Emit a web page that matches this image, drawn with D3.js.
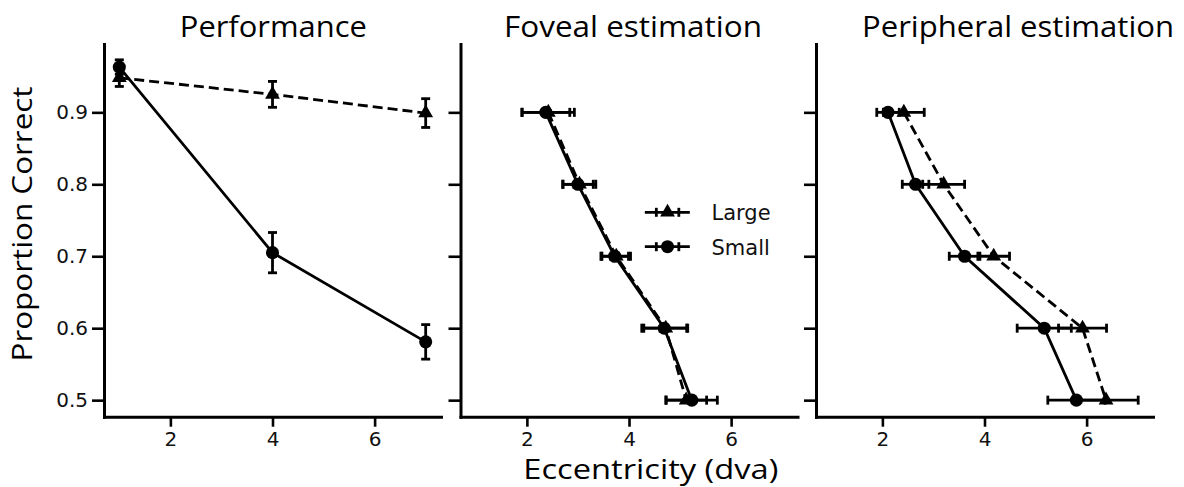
<!DOCTYPE html>
<html>
<head>
<meta charset="utf-8">
<script src="https://cdn.jsdelivr.net/npm/d3@7"></script>
<style>
  html, body { margin: 0; padding: 0; background: #fff; }
  svg { display: block; }
  .tick text { font-family: "DejaVu Sans", sans-serif; fill: #111; }
  .xax .tick text { font-size: 20px; }
  .yax .tick text { font-size: 20px; }
</style>
</head>
<body>
<svg id="chart" width="1184" height="487"></svg>
<script>
// ticks
const xTicks = [2, 4, 6]
const yTicks = [0.5, 0.6, 0.7, 0.8, 0.9]

// Performance panel: x = eccentricity, y = proportion correct (vertical error bars)
const perfEcc = [1, 4, 7]
const perfLarge = [0.948, 0.925, 0.899]
const perfLargeErr = [0.012, 0.018, 0.020]
const perfSmall = [0.963, 0.705, 0.581]
const perfSmallErr = [0.010, 0.028, 0.024]

// estimation panels: y = proportion level, x = estimated eccentricity (horizontal error bars)
const propLevels = [0.9, 0.8, 0.7, 0.6, 0.5]
const fovLarge = [2.42, 3.03, 3.75, 4.72, 5.12]
const fovLargeErr = [0.51, 0.32, 0.28, 0.43, 0.40]
const fovSmall = [2.37, 3.00, 3.72, 4.69, 5.23]
const fovSmallErr = [0.47, 0.30, 0.27, 0.44, 0.50]
const perLarge = [2.42, 3.20, 4.18, 5.92, 6.38]
const perLargeErr = [0.40, 0.41, 0.31, 0.47, 0.63]
const perSmall = [2.11, 2.65, 3.61, 5.17, 5.80]
const perSmallErr = [0.22, 0.26, 0.30, 0.53, 0.56]

const titles = ['Performance', 'Foveal estimation', 'Peripheral estimation']
const seriesNames = ['Large', 'Small']

// layout
const panelLeft = [104, 460.5, 816]
const panelW = 337
const plotTop = 44
const plotBottom = 416.7
const xDomain = [0.7, 7.3]
const yDomain = [0.477, 0.995]
const lw = 2.8
const capHalf = 4.5
const triSize = 95
const dotSize = 135

const svg = d3.select('#chart')

let yScale = d3.scaleLinear().domain(yDomain).range([plotBottom, plotTop])

function zip(xs, ys, es) {
    return xs.map((v, i) => ({x: v, y: ys[i], e: es[i]}))
}

function draw_series(g, xScale, pts, dashed, marker, orient) {
    let line = d3.line().x(d => xScale(d.x)).y(d => yScale(d.y))
    g.append('path')
        .datum(pts)
        .attr('d', line)
        .attr('fill', 'none')
        .attr('stroke', '#000')
        .attr('stroke-width', lw)
        .attr('stroke-dasharray', dashed ? '10,5' : null)

    let eb = g.append('g')
        .attr('stroke', '#000')
        .attr('stroke-width', lw)
    pts.forEach(d => {
        let cx = xScale(d.x), cy = yScale(d.y)
        if (orient === 'v') {
            let y0 = yScale(d.y - d.e), y1 = yScale(d.y + d.e)
            eb.append('line').attr('x1', cx).attr('x2', cx).attr('y1', y0).attr('y2', y1)
            eb.append('line').attr('x1', cx - capHalf).attr('x2', cx + capHalf).attr('y1', y0).attr('y2', y0)
            eb.append('line').attr('x1', cx - capHalf).attr('x2', cx + capHalf).attr('y1', y1).attr('y2', y1)
        } else {
            let x0 = xScale(d.x - d.e), x1 = xScale(d.x + d.e)
            eb.append('line').attr('x1', x0).attr('x2', x1).attr('y1', cy).attr('y2', cy)
            eb.append('line').attr('x1', x0).attr('x2', x0).attr('y1', cy - capHalf).attr('y2', cy + capHalf)
            eb.append('line').attr('x1', x1).attr('x2', x1).attr('y1', cy - capHalf).attr('y2', cy + capHalf)
        }
    })

    let sym = marker === 'tri' ? d3.symbolTriangle : d3.symbolCircle
    let size = marker === 'tri' ? triSize : dotSize
    g.append('g').selectAll('path')
        .data(pts)
        .join('path')
        .attr('transform', d => `translate(${xScale(d.x)},${yScale(d.y)})`)
        .attr('d', d3.symbol(sym, size))
        .attr('fill', '#000')
}

function create_panel(i, large, small, orient) {
    let g = svg.append('g').attr('id', `panel-${i}`)
    let xScale = d3.scaleLinear()
        .domain(xDomain)
        .range([panelLeft[i], panelLeft[i] + panelW])

    let xAxisGen = d3.axisBottom(xScale)
        .tickValues(xTicks)
        .tickSize(10)
        .tickSizeOuter(0)
        .tickPadding(5)
        .tickFormat(d3.format('d'))
    let yAxisGen = d3.axisLeft(yScale)
        .tickValues(yTicks)
        .tickSize(12)
        .tickSizeOuter(0)
        .tickPadding(4)
        .tickFormat(i === 0 ? d3.format('.1f') : () => '')

    let xAxis = g.append('g')
        .attr('class', 'xax')
        .attr('transform', `translate(0, ${plotBottom})`)
        .call(xAxisGen)
    let yAxis = g.append('g')
        .attr('class', 'yax')
        .attr('transform', `translate(${panelLeft[i]}, 0)`)
        .call(yAxisGen)

    ;[xAxis, yAxis].forEach(a => {
        a.select('.domain').attr('stroke', '#000').attr('stroke-width', 3).attr('stroke-linecap', 'square')
        a.selectAll('.tick line').attr('stroke', '#000').attr('stroke-width', 2.6)
    })

    draw_series(g, xScale, large, true, 'tri', orient)
    draw_series(g, xScale, small, false, 'circle', orient)
    return xScale
}

create_panel(0, zip(perfEcc, perfLarge, perfLargeErr), zip(perfEcc, perfSmall, perfSmallErr), 'v')
let fovX = create_panel(1, zip(fovLarge, propLevels, fovLargeErr), zip(fovSmall, propLevels, fovSmallErr), 'h')
create_panel(2, zip(perLarge, propLevels, perLargeErr), zip(perSmall, propLevels, perSmallErr), 'h')

// titles
const titleX = [273.3, 633, 1018]
const titleW = [187, 258, 312]
titles.forEach((t, i) => {
    svg.append('text')
        .attr('x', titleX[i])
        .attr('y', 37)
        .attr('text-anchor', 'middle')
        .attr('textLength', titleW[i])
        .attr('lengthAdjust', 'spacingAndGlyphs')
        .style('font-family', '"Open Sans", sans-serif')
        .style('font-size', '29px')
        .text(t)
})

// axis labels
svg.append('text')
    .attr('x', 650.8)
    .attr('y', 479)
    .attr('text-anchor', 'middle')
    .attr('textLength', 255)
    .attr('lengthAdjust', 'spacingAndGlyphs')
    .style('font-family', '"Open Sans", sans-serif')
    .style('font-size', '28px')
    .text('Eccentricity (dva)')

svg.append('text')
    .attr('transform', 'translate(32, 224) rotate(-90)')
    .attr('text-anchor', 'middle')
    .attr('textLength', 275)
    .attr('lengthAdjust', 'spacingAndGlyphs')
    .style('font-family', '"Open Sans", sans-serif')
    .style('font-size', '28px')
    .text('Proportion Correct')

// legend in the foveal panel
let legend = svg.append('g').attr('transform', `translate(${fovX(4.31)}, 212.3)`)
seriesNames.forEach((name, k) => {
    let row = legend.append('g').attr('transform', `translate(0, ${k * 34.4})`)
    row.append('line').attr('x1', 0).attr('x2', 45).attr('y1', 0).attr('y2', 0)
        .attr('stroke', '#000').attr('stroke-width', lw)
    ;[11.5, 34].forEach(cx => {
        row.append('line').attr('x1', cx).attr('x2', cx).attr('y1', -capHalf).attr('y2', capHalf)
            .attr('stroke', '#000').attr('stroke-width', lw)
    })
    row.append('path')
        .attr('transform', 'translate(22.7, 0)')
        .attr('d', d3.symbol(k === 0 ? d3.symbolTriangle : d3.symbolCircle, k === 0 ? triSize : dotSize))
        .attr('fill', '#000')
    row.append('text')
        .attr('x', 66.7)
        .attr('y', 7.8)
        .style('font-family', '"DejaVu Sans", sans-serif')
        .style('font-size', '21px')
        .attr('fill', '#111')
        .text(name)
})
</script>
</body>
</html>
